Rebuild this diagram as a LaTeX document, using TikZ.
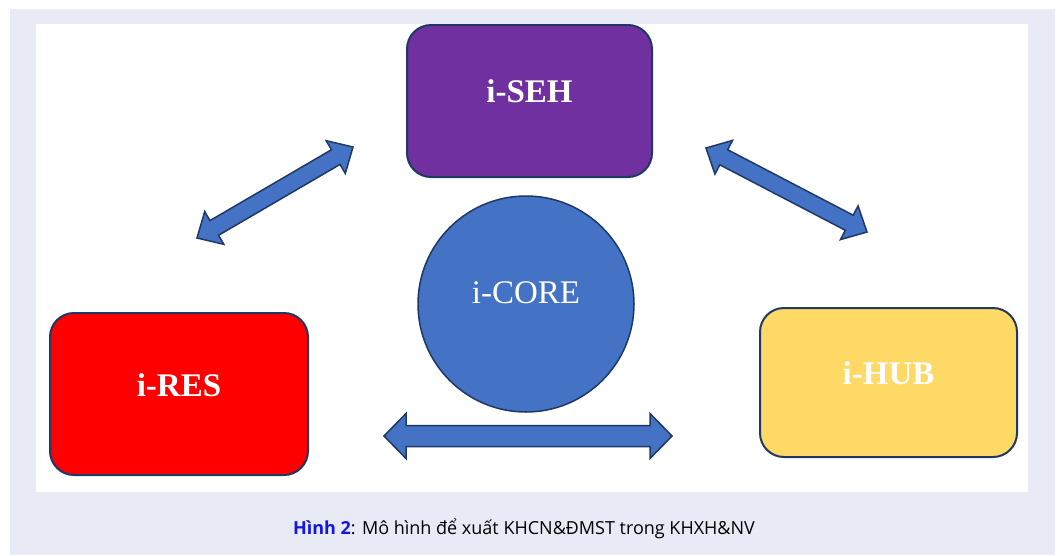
\documentclass[tikz,border=0pt]{standalone}
\usepackage{fontspec}
\setmainfont{Liberation Serif}
\newfontfamily\capfont{Open Sans}
\usetikzlibrary{calc}

\definecolor{panel}{HTML}{E8EBF5}
\definecolor{navy}{HTML}{1F3864}
\definecolor{sehpurple}{HTML}{7030A0}
\definecolor{corebl}{HTML}{4472C4}
\definecolor{resred}{HTML}{FF0000}
\definecolor{hubyel}{HTML}{FFD966}
\definecolor{hinhblue}{HTML}{1414E6}

% double-headed block arrow between two named points
% #1 start, #2 end, #3 half shaft width, #4 half head width, #5 head length
\newcommand\dblblock[5]{%
  \draw[blockarrow] (#1)
    -- ($(#1)!#5!(#2)!#4!90:(#2)$)
    -- ($(#1)!#5!(#2)!#3!90:(#2)$)
    -- ($(#2)!#5!(#1)!#3!-90:(#1)$)
    -- ($(#2)!#5!(#1)!#4!-90:(#1)$)
    -- (#2)
    -- ($(#2)!#5!(#1)!#4!90:(#1)$)
    -- ($(#2)!#5!(#1)!#3!90:(#1)$)
    -- ($(#1)!#5!(#2)!#3!-90:(#2)$)
    -- ($(#1)!#5!(#2)!#4!-90:(#2)$)
    -- cycle;}

\tikzset{
  roundbox/.style={draw=navy, line width=2pt, rounded corners=24pt,
    rectangle, inner sep=0pt},
  blockarrow/.style={draw=navy, line width=1.5pt, fill=corebl, line join=miter},
  boldlabel/.style={text=white, font=\fontsize{33}{36}\selectfont\bfseries},
  plainlabel/.style={text=white, font=\fontsize{33}{36}\selectfont},
}

\begin{document}
\begin{tikzpicture}[x=1pt,y=-1pt]
\useasboundingbox (0,0) rectangle (1058,555);
% page panel and white drawing area
\fill[panel] (10,9) rectangle (1055,555);
\fill[white] (36,24) rectangle (1028,492);

% the four components
\node[roundbox, fill=sehpurple, minimum width=245pt, minimum height=152pt] (seh) at (529.5,101) {};
\node[roundbox, fill=resred, minimum width=258pt, minimum height=162pt] (res) at (179,394) {};
\node[roundbox, fill=hubyel, minimum width=257pt, minimum height=149pt] (hub) at (888.5,382.5) {};
\node[circle, draw=navy, line width=1.5pt, fill=corebl, minimum size=216pt, inner sep=0pt] (core) at (526,304) {};

\node[boldlabel] (sehlabel) at ([yshift=10pt]seh.center) {i-SEH};
\node[boldlabel] (reslabel) at ([yshift=9pt]res.center) {i-RES};
\node[boldlabel] (hublabel) at ([yshift=9pt]hub.center) {i-HUB};
\node[plainlabel] (corelabel) at ([yshift=11pt]core.center) {i-CORE};

% arrow end points
\coordinate (l1) at (197,238);
\coordinate (l2) at (353,147);
\coordinate (r1) at (706,148);
\coordinate (r2) at (867,232);
\coordinate (b1) at (384,436);
\coordinate (b2) at (672,436);

\dblblock{l1}{l2}{8.5pt}{19pt}{20pt}
\dblblock{r1}{r2}{8.5pt}{19pt}{20pt}
\dblblock{b1}{b2}{10.5pt}{22.5pt}{22pt}

% caption
\node[anchor=base, font=\capfont\fontsize{18}{20}\selectfont] (caption) at (524,534)
  {\textcolor{hinhblue}{\bfseries Hình 2}: Mô hình để xuất KHCN\&ĐMST trong KHXH\&NV};
\end{tikzpicture}
\end{document}
